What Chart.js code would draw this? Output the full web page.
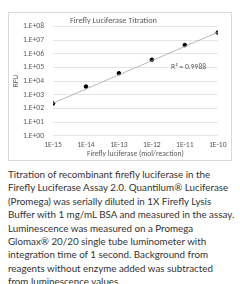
<!DOCTYPE html>
<html>
<head>
<meta charset="utf-8">
<script src="https://cdn.jsdelivr.net/npm/chart.js@4"></script>
<style>
  html, body { margin: 0; padding: 0; background: #fff; width: 240px; height: 284px; overflow: hidden; }
  #box { position: absolute; left: 8px; top: 12px; width: 224px; height: 149px; border: 1px solid #d9d9d9; box-sizing: border-box; }
  #box canvas { display: block; }
  #caption { position: absolute; left: 8px; top: 168px; width: 232px; white-space: nowrap; font-family: Lato, sans-serif; font-size: 9.8px; line-height: 13.4px; color: #333; }
</style>
</head>
<body>
<div id="box"><canvas id="lucChart" width="222" height="147"></canvas></div>
<div id="caption">Titration of recombinant firefly luciferase in the<br>Firefly Luciferase Assay 2.0. Quantilum® Luciferase<br>(Promega) was serially diluted in 1X Firefly Lysis<br>Buffer with 1 mg/mL BSA and measured in the assay.<br>Luminescence was measured on a Promega<br>Glomax® 20/20 single tube luminometer with<br>integration time of 1 second. Background from<br>reagents without enzyme added was subtracted<br>from luminescence values.</div>
<script>
// --- Data ---
const luciferaseMol = [1e-15, 1e-14, 1e-13, 1e-12, 1e-11, 1e-10];
const rfuValues = [2.3e2, 4.0e3, 3.8e4, 3.7e5, 4.4e6, 3.6e7];
const trendMol = [1e-15, 1e-10];
const trendRfu = [2.4e2, 3.8e7];
const xTickValues = [1e-15, 1e-14, 1e-13, 1e-12, 1e-11, 1e-10];
const xTickLabels = ['1E-15', '1E-14', '1E-13', '1E-12', '1E-11', '1E-10'];
const yTickValues = [1e0, 1e1, 1e2, 1e3, 1e4, 1e5, 1e6, 1e7, 1e8];
const yTickLabels = ['1.E+00', '1.E+01', '1.E+02', '1.E+03', '1.E+04', '1.E+05', '1.E+06', '1.E+07', '1.E+08'];
const r2Text = 'R\u00B2 = 0.9988';

const fontFamily = 'Calibri, Carlito, "Liberation Sans", sans-serif';
const axisFont = { family: fontFamily, size: 7.6 };
const grey = '#595959';

// --- Label R² (plugin kecil) ---
const r2Label = {
    id: 'r2Label',
    afterDatasetsDraw(chart) {
        const ctx = chart.ctx;
        const x = chart.scales.x.getPixelForValue(1.3e-11);
        const y = chart.scales.y.getPixelForValue(1e5);
        ctx.save();
        ctx.font = '7.6px ' + fontFamily;
        ctx.fillStyle = grey;
        ctx.textAlign = 'center';
        ctx.textBaseline = 'middle';
        ctx.fillText(r2Text, x, y);
        ctx.restore();
    }
};

const ctx = document.getElementById('lucChart').getContext('2d');
new Chart(ctx, {
    type: 'scatter',
    data: {
        datasets: [
            {
                label: 'Trend',
                data: trendMol.map((m, i) => ({ x: m, y: trendRfu[i] })),
                showLine: true,
                borderColor: '#a6a6a6',
                borderWidth: 0.8,
                pointRadius: 0
            },
            {
                label: 'RFU',
                data: luciferaseMol.map((m, i) => ({ x: m, y: rfuValues[i] })),
                backgroundColor: '#000',
                borderColor: '#000',
                pointRadius: 1.8
            }
        ]
    },
    options: {
        responsive: false,
        animation: false,
        layout: { padding: { left: 0, right: 13, top: 0, bottom: 0 } },
        plugins: {
            legend: { display: false },
            tooltip: { enabled: false },
            title: {
                display: true,
                text: 'Firefly Luciferase Titration',
                color: grey,
                font: { family: fontFamily, size: 8.3, weight: 'normal' },
                padding: { top: 1, bottom: 0.3 }
            }
        },
        scales: {
            x: {
                type: 'logarithmic',
                min: 1e-15,
                max: 1e-10,
                afterBuildTicks: s => { s.ticks = xTickValues.map(v => ({ value: v })); },
                afterFit: s => { s.height = 24.3; },
                grid: { display: false, drawTicks: false },
                border: { display: false },
                ticks: {
                    color: grey,
                    font: axisFont,
                    padding: 4.5,
                    maxRotation: 0,
                    autoSkip: false,
                    callback: (v, i) => xTickLabels[i]
                },
                title: {
                    display: true,
                    text: 'Firefly luciferase (mol/reaction)',
                    color: grey,
                    font: axisFont,
                    padding: { top: 0, bottom: 1.5 }
                }
            },
            y: {
                type: 'logarithmic',
                min: 1,
                max: 1e8,
                afterBuildTicks: s => { s.ticks = yTickValues.map(v => ({ value: v })); },
                afterFit: s => { s.width = 44; },
                grid: { color: '#d9d9d9', lineWidth: 0.7, drawTicks: false },
                border: { display: false },
                ticks: {
                    color: grey,
                    font: axisFont,
                    padding: 9,
                    autoSkip: false,
                    callback: (v, i) => yTickLabels[i]
                },
                title: {
                    display: true,
                    text: 'RFU',
                    color: grey,
                    font: axisFont,
                    padding: { top: 3, bottom: 0 }
                }
            }
        }
    },
    plugins: [r2Label]
});
</script>
</body>
</html>
